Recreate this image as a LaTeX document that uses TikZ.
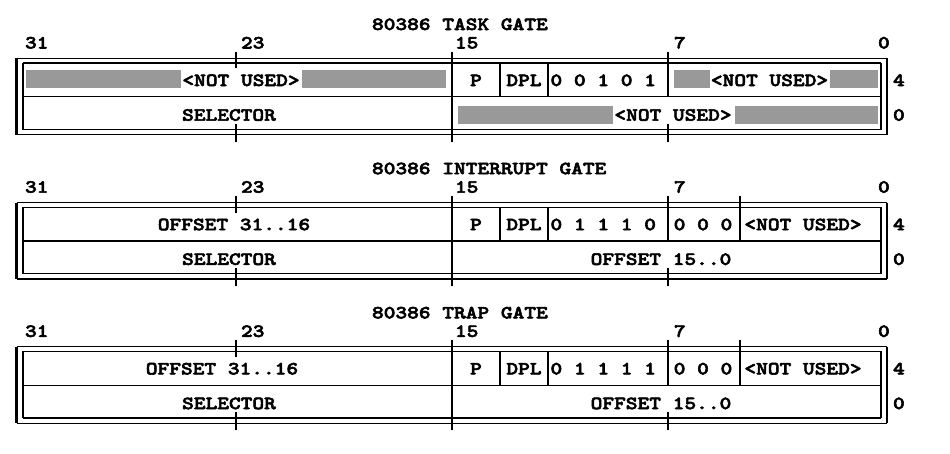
\documentclass[tikz,border=0pt]{standalone}
\usepackage{fontspec}
\newfontfamily\dosfont{lmmonolt10-bold.otf}[FakeStretch=1.2,FakeBold=3]
\tikzset{
  every node/.style={inner sep=0pt, outer sep=0pt, anchor=base,
    font=\dosfont\fontsize{18.6}{20}\selectfont},
  lft/.style={anchor=base west},
  hline/.style={line width=1.2pt},
  sideline/.style={line width=2.6pt},
  divline/.style={line width=2pt},
  tickline/.style={line width=2pt},
  shadefill/.style={fill=black!40, draw=none},
}
\newcommand\gateframe[2]{%
  \begin{scope}[yshift=-#1pt]
    \draw[hline] (16.5,58.3) -- (887,58.3);
    \draw[hline] (23,63) -- (881,63);
    \draw[hline] (23,96.7) -- (881,96.7);
    \draw[hline] (23,129.5) -- (881,129.5);
    \draw[hline] (16.5,134.7) -- (887,134.7);
    \draw[sideline] (16.5,58.3) -- (16.5,134.7);
    \draw[sideline] (23,63) -- (23,129.5);
    \draw[sideline] (881,63) -- (881,129.5);
    \draw[sideline] (887,58.3) -- (887,134.7);
    \draw[divline] (452,63) -- (452,129.5);
    \foreach \xx in {500,548,668,#2} {\draw[divline] (\xx,63) -- (\xx,96.7);}
    \foreach \xx in {236,452,668,#2} {\draw[tickline] (\xx,51.7) -- (\xx,68.3);}
    \foreach \xx in {236,452,668} {\draw[tickline] (\xx,124) -- (\xx,141.7);}
  \end{scope}}
\newcommand\gatelabels[2]{%
  \begin{scope}[yshift=-#1pt]
    \node[lft] (#2title) at (372,30) {80386 \csname gt#2\endcsname};
    \node[lft] (#2b31) at (25,48.5) {31};
    \node[lft] (#2b23) at (241,48.5) {23};
    \node[lft] (#2b15) at (455,48.5) {15};
    \node[lft] (#2b7) at (674,48.5) {7};
    \node[lft] (#2b0) at (878,48.5) {0};
    \node[lft] (#2four) at (893,86) {4};
    \node[lft] (#2zero) at (893,120.7) {0};
    \node (#2p) at (476,86) {P};
    \node (#2dpl) at (524,86) {DPL};
  \end{scope}}
\def\gtA{TASK GATE}
\def\gtB{INTERRUPT GATE}
\def\gtC{TRAP GATE}
\begin{document}
\begin{tikzpicture}[x=1pt,y=-1pt]
\useasboundingbox (0,0) rectangle (950,453);
% ---------- TASK GATE ----------
\gateframe{0}{668}
\gatelabels{0}{A}
\fill[shadefill] (26,69.5) rectangle (181,87.5);
\fill[shadefill] (302,69.5) rectangle (446,87.5);
\node (Anu1) at (241,86) {<NOT USED>};
\node[lft] (Atype) at (550.5,86) {0 0 1 0 1};
\fill[shadefill] (674,69.5) rectangle (710,87.5);
\node (Anu2) at (769.5,86) {<NOT USED>};
\fill[shadefill] (830,69.5) rectangle (878,87.5);
\node (Asel) at (229,120.7) {SELECTOR};
\fill[shadefill] (458,105.5) rectangle (613,123.5);
\node (Anu3) at (673,120.7) {<NOT USED>};
\fill[shadefill] (735,105.5) rectangle (878,123.5);
% ---------- INTERRUPT GATE ----------
\gateframe{144.2}{740}
\gatelabels{144.2}{B}
\begin{scope}[yshift=-144.2pt]
\node (Boffh) at (234,86) {OFFSET 31..16};
\node[lft] (Btype) at (550.5,86) {0 1 1 1 0};
\node (Bzero) at (703,86) {0 0 0};
\node (Bnu) at (803,86) {<NOT USED>};
\node (Bsel) at (229,120.7) {SELECTOR};
\node (Boffl) at (661,120.7) {OFFSET 15..0};
\end{scope}
% ---------- TRAP GATE ----------
\gateframe{288.4}{740}
\gatelabels{288.4}{C}
\begin{scope}[yshift=-288.4pt]
\node (Coffh) at (222,86) {OFFSET 31..16};
\node[lft] (Ctype) at (550.5,86) {0 1 1 1 1};
\node (Czero) at (703,86) {0 0 0};
\node (Cnu) at (803,86) {<NOT USED>};
\node (Csel) at (229,120.7) {SELECTOR};
\node (Coffl) at (661,120.7) {OFFSET 15..0};
\end{scope}
\end{tikzpicture}
\end{document}
